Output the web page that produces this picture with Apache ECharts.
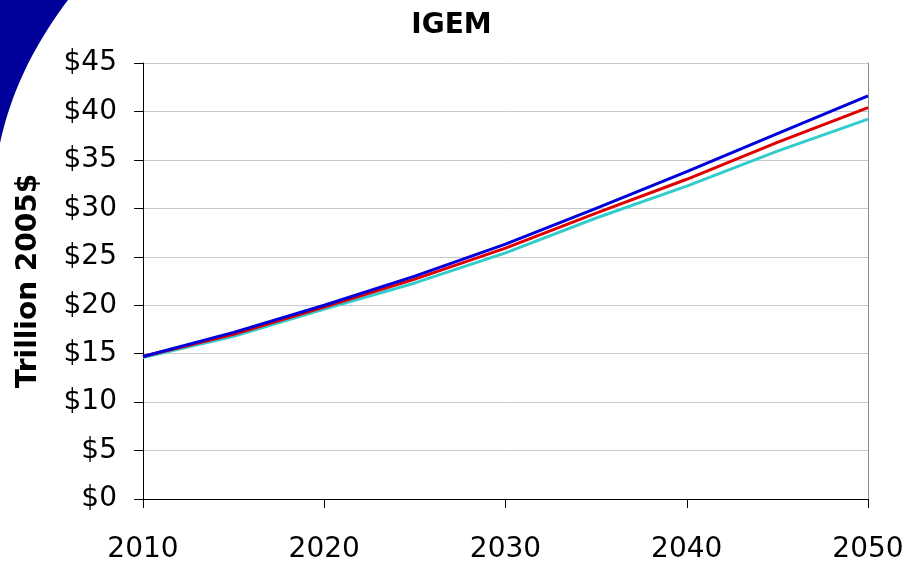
<!DOCTYPE html>
<html>
<head>
<meta charset="utf-8">
<script src="https://cdn.jsdelivr.net/npm/echarts@6/dist/echarts.min.js"></script>
<style>html,body{margin:0;padding:0;background:#fff;}#c{width:903px;height:563px;}</style>
</head>
<body>
<div id="c"></div>
<script>
const years = [2010, 2015, 2020, 2025, 2030, 2035, 2040, 2045, 2050];
const seriesBlue = [14.7, 17.2, 20.0, 23.0, 26.3, 30.0, 33.8, 37.7, 41.6];
const seriesRed  = [14.7, 17.0, 19.8, 22.7, 25.9, 29.5, 33.0, 36.8, 40.4];
const seriesCyan = [14.6, 16.8, 19.6, 22.3, 25.4, 29.0, 32.3, 35.9, 39.2];
const titleText = 'IGEM';
const yAxisTitle = 'Trillion 2005$';

const pairs = v => years.map((y, i) => [y, v[i]]);
const font = 'DejaVu Sans';

// decorative corner swoosh (quadratic curve sampled)
const decoPts = [[0, 0]];
for (let k = 0; k <= 20; k++) {
  const t = k / 20;
  const a = (1 - t) * (1 - t), b = 2 * t * (1 - t), c = t * t;
  decoPts.push([a * 68 + b * 16 + c * 0, a * 0 + b * 68.5 + c * 143]);
}

const chart = echarts.init(document.getElementById('c'), null, {renderer: 'canvas'});
chart.setOption({
  animation: false,
  backgroundColor: '#fff',
  title: {
    text: titleText, left: 'center', top: 7,
    textStyle: {fontFamily: font, fontWeight: 'bold', fontSize: 28, color: '#000'}
  },
  graphic: [{
    type: 'polygon', z: -1,
    shape: {points: decoPts},
    style: {fill: '#00009a'}
  }],
  grid: {left: 143, right: 35, top: 63, bottom: 64, outerBoundsMode: 'none', containLabel: false},
  xAxis: {
    type: 'value', min: 2010, max: 2050, interval: 10,
    axisLine: {show: true, lineStyle: {color: '#000', width: 1}},
    axisTick: {show: true, length: 9, lineStyle: {color: '#000'}},
    axisLabel: {fontFamily: font, fontSize: 28, color: '#000', margin: 37, formatter: v => String(v)},
    splitLine: {show: false}
  },
  yAxis: [{
    type: 'value', min: 0, max: 45, interval: 5,
    name: yAxisTitle, nameLocation: 'middle', nameGap: 100, nameRotate: 90,
    nameTextStyle: {fontFamily: font, fontWeight: 'bold', fontSize: 28, color: '#000'},
    axisLine: {show: true, lineStyle: {color: '#000', width: 1}},
    axisTick: {show: true, length: 9, lineStyle: {color: '#000'}},
    axisLabel: {fontFamily: font, fontSize: 28, color: '#000', margin: 26, formatter: v => '$' + v},
    splitLine: {show: true, lineStyle: {color: '#c8c8c8', width: 1}}
  }, {
    type: 'value', min: 0, max: 45, interval: 5, position: 'right',
    axisLine: {show: true, lineStyle: {color: '#8c8c8c', width: 1}},
    axisTick: {show: false}, axisLabel: {show: false}, splitLine: {show: false}
  }],
  series: [
    {type: 'line', data: pairs(seriesCyan), symbol: 'none', lineStyle: {color: '#33cccc', width: 3}, z: 2},
    {type: 'line', data: pairs(seriesRed), symbol: 'none', lineStyle: {color: '#e00000', width: 3}, z: 3},
    {type: 'line', data: pairs(seriesBlue), symbol: 'none', lineStyle: {color: '#0000dd', width: 3}, z: 4}
  ]
});
</script>
</body>
</html>
